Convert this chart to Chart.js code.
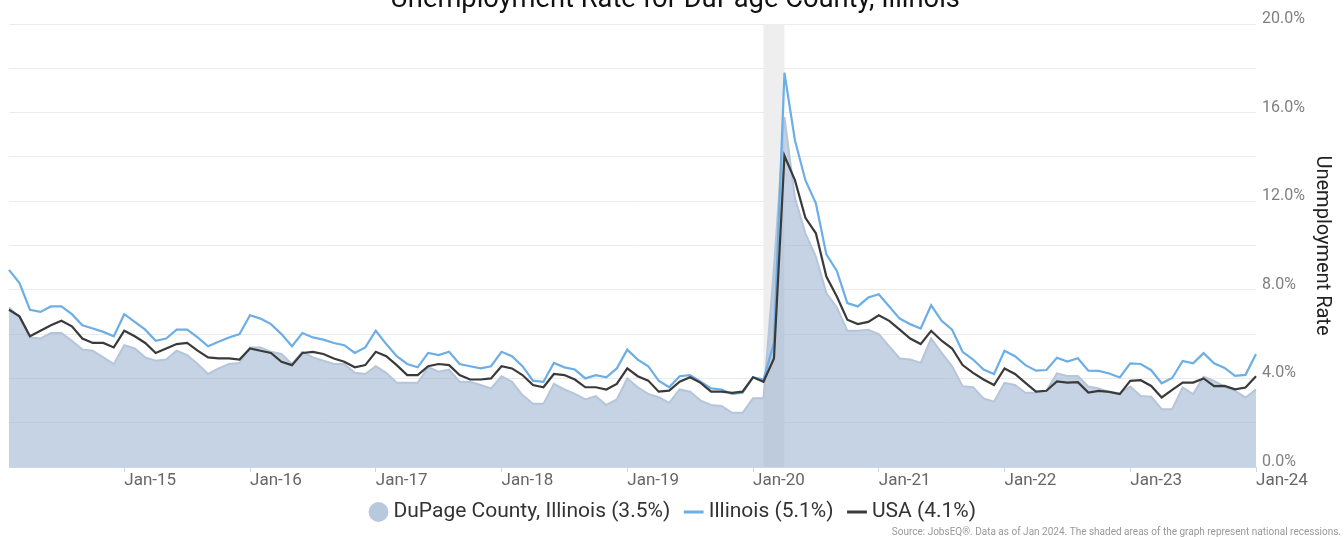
<!DOCTYPE html>
<html>
  <head>
    <meta charset="utf-8">
    <script src="https://cdn.jsdelivr.net/npm/chart.js@4.4.1/dist/chart.umd.min.js"></script>
    <style>
      html, body { margin: 0; padding: 0; background: #fff; }
      #wrap { position: relative; width: 1344px; height: 537px; overflow: hidden; }
      #canvas { position: absolute; left: 0; top: -16px; }
    </style>
  </head>

  <body>
    <div id="wrap"><canvas id="canvas" width="1344" height="553"></canvas></div>
    <script>
      // monthly, Feb 2014 .. Jan 2024
      const monthNames = ['Jan', 'Feb', 'Mar', 'Apr', 'May', 'Jun', 'Jul', 'Aug', 'Sep', 'Oct', 'Nov', 'Dec'];
      const months = [];
      for (let i = 0; i < 120; i++) {
        const m = (1 + i) % 12;
        const y = 2014 + Math.floor((1 + i) / 12);
        months.push(monthNames[m] + '-' + String(y).slice(2));
      }

      const recession = ['Feb-20', 'Apr-20'];

      const dupage = [
        7.2, 6.75, 5.85, 5.8, 6.05, 6.05, 5.7, 5.3, 5.25, 4.95, 4.65, 5.5, 5.35, 4.95, 4.8, 4.85, 5.25, 5.05, 4.65, 4.2, 4.45, 4.65, 4.7, 5.4,
        5.4, 5.2, 5.1, 4.65, 5.2, 4.95, 4.8, 4.65, 4.65, 4.25, 4.2, 4.55, 4.25, 3.8, 3.8, 3.8, 4.5, 4.3, 4.4, 3.85, 3.85, 3.7, 3.55, 4.1,
        3.85, 3.25, 2.85, 2.85, 3.75, 3.5, 3.3, 3.05, 3.2, 2.8, 3.05, 4.0, 3.6, 3.3, 3.15, 2.9, 3.5, 3.4, 3.0, 2.8, 2.75, 2.45, 2.45, 3.1,
        3.1, 9.0, 15.8, 12.15, 10.55, 9.5, 7.85, 7.2, 6.15, 6.15, 6.2, 6.0, 5.45, 4.9, 4.85, 4.7, 5.8, 5.15, 4.55, 3.65, 3.6, 3.1, 2.95, 3.8,
        3.7, 3.35, 3.35, 3.44, 4.23, 4.11, 4.11, 3.63, 3.54, 3.39, 3.33, 3.63, 3.21, 3.17, 2.61, 2.61, 3.59, 3.29, 4.07, 3.89, 3.63, 3.44, 3.14, 3.5
      ];
      const illinois = [
        8.9, 8.3, 7.1, 7.0, 7.25, 7.25, 6.9, 6.4, 6.25, 6.1, 5.9, 6.9, 6.55, 6.2, 5.7, 5.8, 6.2, 6.2, 5.85, 5.45, 5.65, 5.85, 6.0, 6.85,
        6.7, 6.45, 6.0, 5.45, 6.05, 5.85, 5.75, 5.6, 5.5, 5.15, 5.4, 6.15, 5.55, 5.0, 4.65, 4.5, 5.15, 5.05, 5.2, 4.65, 4.55, 4.45, 4.55, 5.2,
        5.0, 4.55, 3.9, 3.85, 4.7, 4.5, 4.4, 4.0, 4.15, 4.05, 4.45, 5.3, 4.85, 4.55, 3.9, 3.6, 4.1, 4.15, 3.85, 3.55, 3.5, 3.3, 3.35, 4.05,
        3.95, 5.6, 17.8, 14.75, 12.95, 11.9, 9.6, 8.85, 7.4, 7.25, 7.65, 7.8, 7.25, 6.7, 6.45, 6.25, 7.3, 6.6, 6.2, 5.2, 4.85, 4.4, 4.2, 5.25,
        5.0, 4.6, 4.35, 4.38, 4.93, 4.76, 4.91, 4.35, 4.34, 4.22, 4.04, 4.68, 4.65, 4.37, 3.78, 4.02, 4.79, 4.68, 5.14, 4.68, 4.47, 4.11, 4.16, 5.1
      ];
      const usa = [
        7.1, 6.8, 5.9, 6.15, 6.4, 6.6, 6.35, 5.8, 5.6, 5.6, 5.4, 6.15, 5.9, 5.6, 5.15, 5.35, 5.55, 5.6, 5.25, 4.95, 4.9, 4.9, 4.85, 5.35,
        5.25, 5.15, 4.75, 4.6, 5.15, 5.2, 5.1, 4.9, 4.75, 4.5, 4.6, 5.2, 5.0, 4.6, 4.15, 4.15, 4.55, 4.65, 4.6, 4.15, 3.95, 3.95, 4.0, 4.55,
        4.45, 4.15, 3.7, 3.6, 4.2, 4.15, 3.95, 3.6, 3.6, 3.5, 3.75, 4.45, 4.1, 3.9, 3.4, 3.45, 3.85, 4.05, 3.8, 3.4, 3.4, 3.35, 3.4, 4.05,
        3.85, 4.9, 14.05, 12.95, 11.25, 10.55, 8.6, 7.7, 6.65, 6.45, 6.55, 6.85, 6.6, 6.2, 5.8, 5.55, 6.15, 5.7, 5.35, 4.6, 4.25, 3.95, 3.7, 4.45,
        4.2, 3.8, 3.4, 3.44, 3.86, 3.81, 3.83, 3.36, 3.44, 3.39, 3.29, 3.89, 3.92, 3.66, 3.14, 3.48, 3.81, 3.81, 4.0, 3.65, 3.66, 3.51, 3.59, 4.1
      ];

      const last = (a) => a[a.length - 1].toFixed(1) + '%';
      const isJan = (i) => months[i] && months[i].startsWith('Jan');

      // grey band behind the lines for recession months
      const recessionShade = {
        id: 'recessionShade',
        beforeDatasetsDraw(chart) {
          const { ctx, chartArea, scales } = chart;
          const x0 = scales.x.getPixelForValue(months.indexOf(recession[0]));
          const x1 = scales.x.getPixelForValue(months.indexOf(recession[1]));
          ctx.save();
          ctx.fillStyle = '#eeeeee';
          ctx.fillRect(x0, chartArea.top, x1 - x0, chartArea.bottom - chartArea.top);
          ctx.restore();
        },
      };

      // pull the legend row a little closer to the axis labels
      const nudgeLegend = {
        id: 'nudgeLegend',
        afterLayout(chart) {
          chart.legend.top -= 4.5;
          chart.legend.bottom -= 4.5;
        },
      };

      Chart.defaults.font.family = 'Roboto';

      new Chart(document.getElementById('canvas').getContext('2d'), {
        type: 'line',
        data: {
          labels: months,
          datasets: [
            {
              label: 'DuPage County, Illinois (' + last(dupage) + ')',
              data: dupage,
              fill: 'origin',
              backgroundColor: 'rgba(150,175,207,0.55)',
              borderColor: '#b5c5da',
              borderWidth: 2,
              pointRadius: 0,
              pointStyle: 'circle',
              pointBackgroundColor: '#b8c8dd',
              pointBorderColor: '#b8c8dd',
              pointBorderWidth: 0,
              order: 3,
            },
            {
              label: 'Illinois (' + last(illinois) + ')',
              data: illinois,
              fill: false,
              borderColor: '#6caee6',
              borderWidth: 2.2,
              pointRadius: 0,
              pointStyle: 'line',
              pointBorderColor: '#6caee6',
              pointBorderWidth: 3,
              order: 2,
            },
            {
              label: 'USA (' + last(usa) + ')',
              data: usa,
              fill: false,
              borderColor: '#3a3a3a',
              borderWidth: 2.2,
              pointRadius: 0,
              pointStyle: 'line',
              pointBorderColor: '#3a3a3a',
              pointBorderWidth: 3,
              order: 1,
            },
          ],
        },
        options: {
          responsive: false,
          animation: false,
          devicePixelRatio: 1,
          layout: { padding: { left: 9, right: 3 } },
          scales: {
            x: {
              afterFit(scale) { scale.height = 20; },
              grid: {
                drawOnChartArea: false,
                tickLength: 5,
                color: (c) => (isJan(c.index) ? '#ccd6eb' : 'rgba(0,0,0,0)'),
              },
              border: { display: true, color: '#ccd6eb' },
              ticks: {
                autoSkip: false,
                maxRotation: 0,
                align: 'start',
                padding: -1,
                color: '#666',
                font: { size: 17 },
                callback: (v, i) => (isJan(i) ? months[i] : ''),
              },
            },
            y: {
              position: 'right',
              min: 0,
              max: 20,
              afterFit(scale) { scale.width = 85; },
              grid: { color: '#ebebeb', drawTicks: false },
              border: { display: false },
              ticks: {
                stepSize: 2,
                padding: 6,
                labelOffset: -5,
                color: '#808080',
                font: { size: 16 },
                callback: (v) => (v % 4 === 0 ? v.toFixed(1) + '%' : ''),
              },
              title: {
                display: true,
                text: 'Unemployment Rate',
                color: '#222',
                font: { size: 20 },
                padding: { top: 7, bottom: 0 },
              },
            },
          },
          plugins: {
            title: {
              display: true,
              text: 'Unemployment Rate for DuPage County, Illinois',
              color: '#111',
              font: { size: 27.3, weight: 'normal' },
              padding: { top: 0, bottom: 7.24 },
            },
            subtitle: {
              display: true,
              position: 'bottom',
              align: 'end',
              text: 'Source: JobsEQ®. Data as of Jan 2024. The shaded areas of the graph represent national recessions.',
              color: '#999',
              font: { size: 10 },
              padding: { top: -11, bottom: -2 },
            },
            legend: {
              position: 'bottom',
              labels: {
                usePointStyle: true,
                boxWidth: 9,
                boxHeight: 14,
                padding: 19,
                color: '#333',
                font: { size: 21 },
                sort: (a, b) => a.datasetIndex - b.datasetIndex,
              },
            },
            tooltip: { enabled: false },
          },
        },
        plugins: [recessionShade, nudgeLegend],
      });
    </script>
  </body>
</html>
